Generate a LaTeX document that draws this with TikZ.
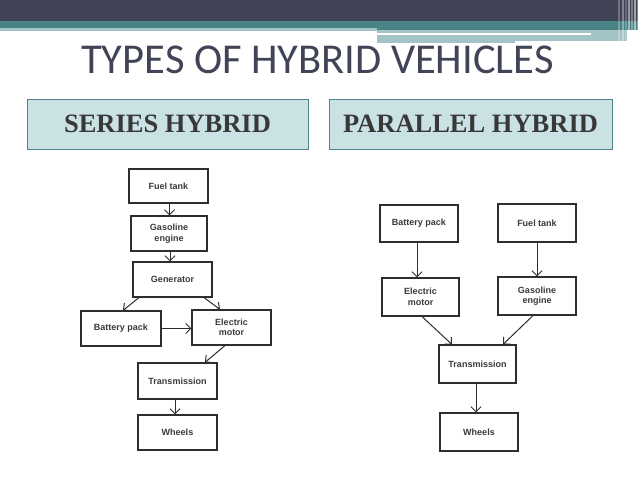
\documentclass[tikz,border=0pt]{standalone}
\usepackage{fontspec}
\setmainfont{Liberation Serif}
\newfontfamily\titlefont{Carlito}
\newfontfamily\boxfont{Liberation Sans}
\usetikzlibrary{arrows.meta,calc}
\definecolor{darkbar}{HTML}{414356}
\definecolor{tealbar}{HTML}{4A8386}
\definecolor{lightteal}{HTML}{A3C4C6}
\definecolor{titlecol}{HTML}{414457}
\definecolor{hdrfill}{HTML}{CBE2E5}
\definecolor{hdrline}{HTML}{4F8488}
\definecolor{hdrtext}{HTML}{383838}
\definecolor{boxline}{HTML}{2E2E2E}
\definecolor{boxtext}{HTML}{3A3A3A}
\begin{document}
\begin{tikzpicture}[x=1pt,y=-1pt,
  blk/.style={draw=boxline, line width=1.1pt, fill=white, inner sep=0pt, align=center,
    text=boxtext, font=\boxfont\bfseries\fontsize{9}{10.5}\selectfont},
  hdr/.style={draw=hdrline, line width=0.8pt, fill=hdrfill, inner sep=0pt,
    text=hdrtext, text height=17.5pt, text depth=0pt,
    font=\bfseries\fontsize{26.5}{26.5}\selectfont},
  arr/.style={draw=boxline, line width=1pt, -{Straight Barb[length=5pt,width=10pt]}}]
\useasboundingbox (0,0) rectangle (638,479);
\fill[white] (0,0) rectangle (638,479);
% top decoration
\fill[darkbar] (0,0) rectangle (638,21);
\fill[tealbar] (0,21) rectangle (638,28);
\fill[lightteal] (0,28) rectangle (377,31);
\fill[tealbar] (377,21) rectangle (638,30);
\fill[lightteal] (377,30) rectangle (627,43);
\fill[white] (377,33) rectangle (591,35);
\fill[white] (515,41) rectangle (627,43);
\foreach \xx/\op in {618/0.25,622/0.35,625/0.2,628/0.45,631/0.3,634/0.5,637/0.35}
  \fill[white,opacity=\op] (\xx,0) rectangle ++(1.6,43);
% title
\node[anchor=base, text=titlecol, font=\titlefont\fontsize{42.5}{43}\selectfont, inner sep=0pt] (title) at (317.5,73) {TYPES OF HYBRID VEHICLES};
% headers
\node[hdr, minimum width=281pt, minimum height=50pt] (hs) at (167.5,124) {SERIES HYBRID};
\node[hdr, minimum width=283pt, minimum height=50pt] (hp) at (470.5,124) {PARALLEL HYBRID};
% series hybrid
\node[blk, minimum width=79pt, minimum height=34pt] (ft1) at (168.5,186) {Fuel tank};
\node[blk, minimum width=76pt, minimum height=35pt] (ge1) at (169,233.5) {Gasoline\\engine};
\node[blk, minimum width=79pt, minimum height=35pt] (gen) at (172.5,279.5) {Generator};
\node[blk, minimum width=80pt, minimum height=35pt] (bp1) at (121,328.5) {Battery pack};
\node[blk, minimum width=79pt, minimum height=35pt] (em1) at (231.5,327.5) {Electric\\motor};
\node[blk, minimum width=79pt, minimum height=36pt] (tr1) at (177.5,381) {Transmission};
\node[blk, minimum width=79pt, minimum height=35pt] (wh1) at (177.5,432.5) {Wheels};
\draw[arr] ([xshift=1pt]ft1.south) -- ([xshift=1pt]ft1.south |- ge1.north);
\draw[arr] ([xshift=1pt]ge1.south) -- ([xshift=1pt]ge1.south |- gen.north);
\draw[arr] ([xshift=-33.5pt]gen.south) -- ([xshift=2pt]bp1.north);
\draw[arr] ([xshift=31.5pt]gen.south) -- ([xshift=-11.5pt]em1.north);
\draw[arr] (bp1.east) -- (bp1.east -| em1.west);
\draw[arr] ([xshift=-6.5pt]em1.south) -- ([xshift=27.5pt]tr1.north);
\draw[arr] ([xshift=-2.5pt]tr1.south) -- ([xshift=-2.5pt]tr1.south |- wh1.north);
% parallel hybrid
\node[blk, minimum width=78pt, minimum height=37pt] (bp2) at (419,223.5) {Battery pack};
\node[blk, minimum width=78pt, minimum height=38pt] (ft2) at (537,223) {Fuel tank};
\node[blk, minimum width=77pt, minimum height=38pt] (em2) at (420.5,297) {Electric\\motor};
\node[blk, minimum width=78pt, minimum height=38pt] (ge2) at (537,296) {Gasoline\\engine};
\node[blk, minimum width=77pt, minimum height=38pt] (tr2) at (477.5,364) {Transmission};
\node[blk, minimum width=78pt, minimum height=38pt] (wh2) at (479,432) {Wheels};
\draw[arr] ([xshift=-2pt]bp2.south) -- ([xshift=-2pt]bp2.south |- em2.north);
\draw[arr] (ft2.south) -- (ft2.south |- ge2.north);
\draw[arr] ([xshift=1.5pt]em2.south) -- ([xshift=-25.5pt]tr2.north);
\draw[arr] ([xshift=-4pt]ge2.south) -- ([xshift=25.5pt]tr2.north);
\draw[arr] ([xshift=-1.5pt]tr2.south) -- ([xshift=-1.5pt]tr2.south |- wh2.north);
\end{tikzpicture}
\end{document}
